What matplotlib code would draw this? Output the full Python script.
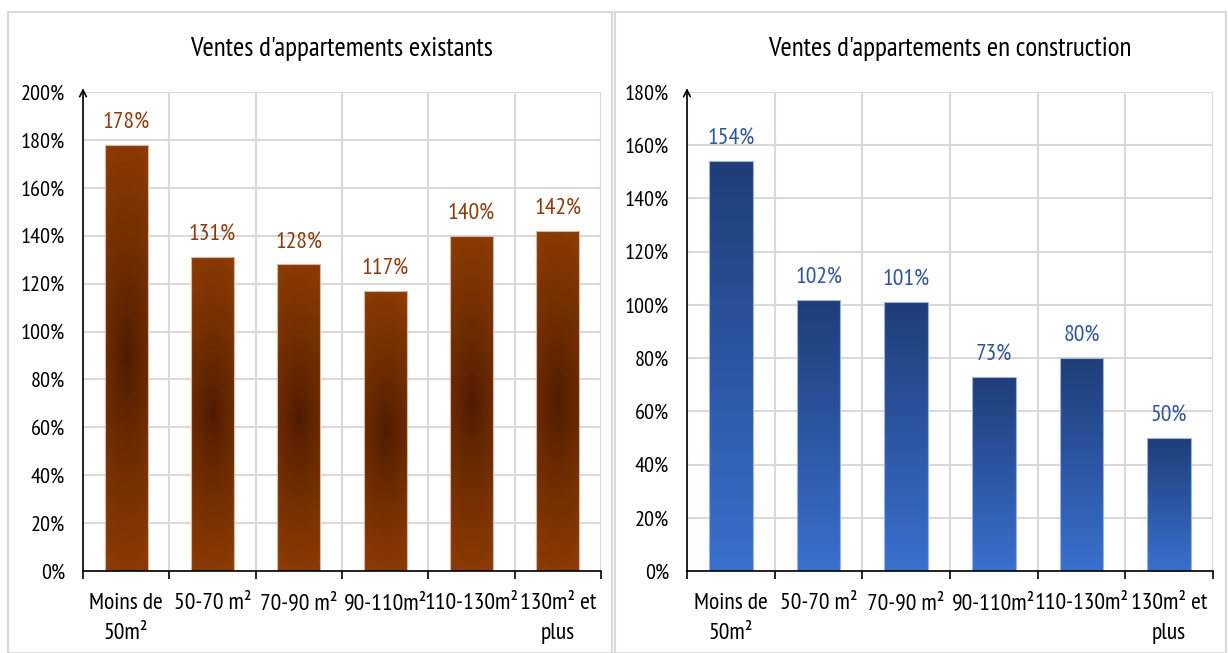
import numpy as np
import matplotlib
matplotlib.use("Agg")
import matplotlib.pyplot as plt
from matplotlib.patches import Rectangle
from matplotlib.colors import to_rgb
from matplotlib.ticker import FuncFormatter

plt.rcParams['font.family'] = ['PT Sans Narrow', 'DejaVu Sans']

categories = ["Moins de\n50m²", "50-70 m²", "70-90 m²", "90-110m²", "110-130m²", "130m² et\nplus"]
existants = [1.78, 1.31, 1.28, 1.17, 1.40, 1.42]
construction = [1.54, 1.02, 1.01, 0.73, 0.80, 0.50]
labels_existants = ["178%", "131%", "128%", "117%", "140%", "142%"]
labels_construction = ["154%", "102%", "101%", "73%", "80%", "50%"]
title_left = "Ventes d'appartements existants"
title_right = "Ventes d'appartements en construction"

W, H = 1228, 653
fig = plt.figure(figsize=(W / 100, H / 100), dpi=100)

# panel borders
for x0, x1 in [(8, 612), (615, 1226)]:
    fig.patches.append(Rectangle((x0 / W, 0), (x1 - x0) / W, 1 - 12 / H,
                                 transform=fig.transFigure, fill=False,
                                 edgecolor="#D9D9D9", lw=1.5))


def brown_grad(nx=40, ny=200):
    xs = np.linspace(-1, 1, nx)
    ys = np.linspace(-1, 1, ny)
    X, Y = np.meshgrid(xs, ys)
    t = np.clip(np.sqrt((0.4 * X) ** 2 + Y ** 2), 0, 1) ** 0.75
    c0 = np.array(to_rgb("#4C1A00"))
    c1 = np.array(to_rgb("#8A3A02"))
    return c0 + (c1 - c0) * t[..., None]


def blue_grad(ny=200):
    t = np.linspace(0, 1, ny)[:, None]  # 0 bottom, 1 top (origin lower)
    c0 = np.array(to_rgb("#3A70CE"))
    c1 = np.array(to_rgb("#1F3D78"))
    img = c0 + (c1 - c0) * t[..., None]
    return np.repeat(img, 2, axis=1)


def make_panel(rect, values, labels, title, ymax, lab_color, kind):
    ax = fig.add_axes(rect)
    x = np.arange(len(values))
    bars = ax.bar(x, values, width=0.5, facecolor="none",
                  edgecolor="#D8B8A8" if kind == "brown" else "#9FB4DA", lw=0.8, zorder=3)
    for b in bars:
        bx, by = b.get_x(), b.get_y()
        bw, bh = b.get_width(), b.get_height()
        img = brown_grad() if kind == "brown" else blue_grad()
        im = ax.imshow(img, extent=(bx, bx + bw, by, by + bh), origin="lower",
                       aspect="auto", zorder=2, interpolation="bilinear")
        im.set_clip_path(b)
    for xi, v, s in zip(x, values, labels):
        ax.annotate(s, (xi, v), xytext=(0, 8), textcoords="offset points",
                    ha="center", va="bottom", color=lab_color, fontsize=17)
    ax.set_xlim(-0.5, len(values) - 0.5)
    ax.set_ylim(0, ymax)
    ax.set_yticks(np.arange(0, ymax + 0.001, 0.2))
    ax.yaxis.set_major_formatter(FuncFormatter(lambda v, p: f"{v * 100:.0f}%"))
    ax.set_xticks(np.arange(-0.5, len(values), 1.0))
    ax.set_xticklabels([])
    ax.set_xticks(x, minor=True)
    ax.set_xticklabels(categories, minor=True, fontsize=17, linespacing=1.55)
    ax.tick_params(axis="x", which="major", length=6, width=1.2, direction="out", color="black")
    ax.tick_params(axis="x", which="minor", length=0, pad=16)
    ax.tick_params(axis="y", length=0, pad=13, labelsize=16)
    ax.grid(True, which="major", color="#D9D9D9", lw=1.5, zorder=0)
    ax.set_axisbelow(True)
    for s in ["top", "right", "left"]:
        ax.spines[s].set_visible(False)
    ax.spines["bottom"].set_linewidth(1.2)
    ax.spines["bottom"].set_zorder(4)
    ax.annotate("", xy=(0, 1.008), xytext=(0, 0), xycoords="axes fraction",
                textcoords="axes fraction",
                arrowprops=dict(arrowstyle="->", lw=1.2, color="black",
                                shrinkA=0, shrinkB=0, mutation_scale=12), zorder=5)
    ax.set_title(title, fontsize=19.5, pad=26)
    return ax


make_panel([83 / W, 1 - 571 / H, (601 - 83) / W, (571 - 92) / H],
           existants, labels_existants, title_left, 2.0, "#8B3A0E", "brown")
make_panel([687 / W, 1 - 571 / H, (1213 - 687) / W, (571 - 92) / H],
           construction, labels_construction, title_right, 1.8, "#2F5597", "blue")

fig.savefig("out.png", dpi=100, facecolor="white")
